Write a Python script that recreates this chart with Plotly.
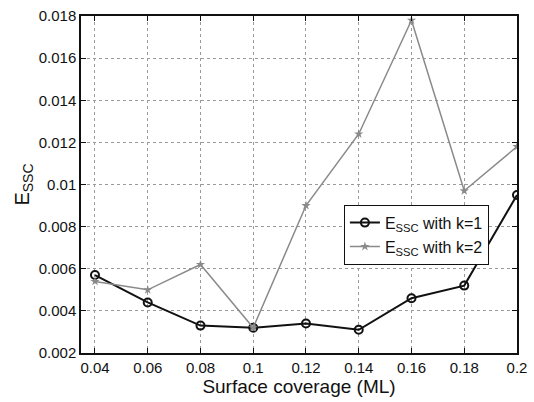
import plotly.graph_objects as go

coverage = [0.04, 0.06, 0.08, 0.10, 0.12, 0.14, 0.16, 0.18, 0.20]
essc_k1 = [0.0057, 0.0044, 0.0033, 0.0032, 0.0034, 0.0031, 0.0046, 0.0052, 0.0095]
essc_k2 = [0.0054, 0.0050, 0.0062, 0.0032, 0.0090, 0.0124, 0.0178, 0.0097, 0.0118]
x_ticks = [0.04, 0.06, 0.08, 0.1, 0.12, 0.14, 0.16, 0.18, 0.2]
x_labels = ["0.04", "0.06", "0.08", "0.1", "0.12", "0.14", "0.16", "0.18", "0.2"]
y_ticks = [0.002, 0.004, 0.006, 0.008, 0.01, 0.012, 0.014, 0.016, 0.018]
y_labels = ["0.002", "0.004", "0.006", "0.008", "0.01", "0.012", "0.014", "0.016", "0.018"]

fig = go.Figure()
fig.add_trace(go.Scatter(
    x=coverage, y=essc_k1, mode="lines+markers",
    name="E<sub>SSC</sub> with k=1",
    line=dict(color="#111111", width=2),
    marker=dict(symbol="circle-open", size=8, color="#111111", line=dict(width=2)),
))
fig.add_trace(go.Scatter(
    x=coverage, y=essc_k2, mode="lines+markers",
    name="E<sub>SSC</sub> with k=2",
    line=dict(color="#8a8a8a", width=1.5),
    marker=dict(symbol="star", size=7, color="#8a8a8a"),
))

axis_common = dict(
    showline=True, linecolor="#111111", linewidth=1.5, mirror="ticks",
    ticks="inside", ticklen=5, tickcolor="#111111",
    showgrid=True, gridcolor="#9a9a9a", griddash="dot", gridwidth=1,
    zeroline=False,
    tickfont=dict(family="Liberation Sans, Arial, sans-serif", size=15, color="#111111"),
)

fig.update_layout(
    width=534, height=402,
    margin=dict(l=81, r=13, t=7, b=49),
    paper_bgcolor="white", plot_bgcolor="white",
    font=dict(family="Liberation Sans, Arial, sans-serif", color="#111111"),
    xaxis=dict(range=[0.0347, 0.2], tickvals=x_ticks, ticktext=x_labels,
               title=dict(text="Surface coverage (ML)", font=dict(size=19), standoff=2),
               **axis_common),
    yaxis=dict(range=[0.002, 0.018], tickvals=y_ticks, ticktext=y_labels,
               title=dict(text="E<sub>SSC</sub>", font=dict(size=20), standoff=4),
               **axis_common),
    legend=dict(x=0.603, y=0.44, xanchor="left", yanchor="top",
                bgcolor="white", bordercolor="#111111", borderwidth=1,
                font=dict(size=16), tracegroupgap=0, itemwidth=30),
    showlegend=True,
)

fig.write_html("out.html")
